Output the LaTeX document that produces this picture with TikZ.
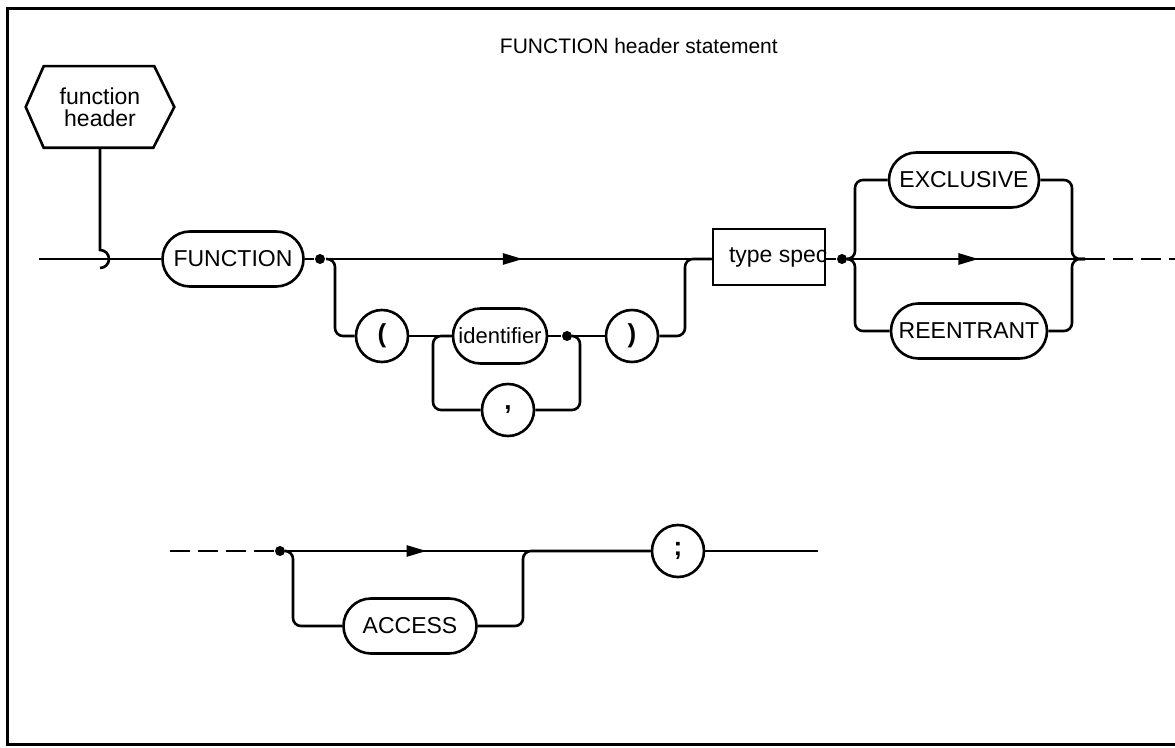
\documentclass[tikz,border=0pt]{standalone}
\usepackage{fontspec}
\setmainfont{Liberation Sans}
\usetikzlibrary{shapes.misc, arrows.meta, decorations.markings, calc}
\begin{document}
\begin{tikzpicture}[x=0.5pt,y=-0.5pt,
  line width=1.3pt,
  txt/.style={font=\fontsize{11.5}{11}\selectfont},
  term/.style={draw, rounded rectangle, minimum height=27.5pt, inner xsep=3pt, inner ysep=0pt, txt},
  circ/.style={draw, circle, minimum size=26pt, inner sep=0pt, font=\fontsize{13}{13}\selectfont\bfseries},
  jdot/.style={circle, fill, inner sep=0pt, minimum size=5pt},
  tsbox/.style={draw, rectangle, minimum height=28pt, inner xsep=8pt, inner ysep=0pt, txt},
  arrowat/.style={postaction={decorate}, decoration={markings, mark=at position #1 with {\arrow{Triangle[length=10pt,width=5.5pt]}}}},
  br/.style={rounded corners=4pt},
  contdash/.style={dash pattern=on 10pt off 4pt}
]
\useasboundingbox (0,0) rectangle (1175,748);
% frame
\draw[line width=1.5pt] (1175,9) -- (7,9) -- (7,745) -- (1175,745);
% title
\node[anchor=base west, font=\fontsize{10.5}{12}\selectfont] (title) at (492,54) {FUNCTION header statement};

% hexagon
\node[txt, align=center, minimum width=73pt, minimum height=39.5pt, inner sep=0pt] (hex) at (100,107) {function\\header};
\draw (hex.west) -- ($(hex.north west)+(18,0)$) -- ($(hex.north east)+(-20,0)$) -- (hex.east)
      -- ($(hex.south east)+(-21,0)$) -- ($(hex.south west)+(18,0)$) -- cycle;
\coordinate (hk) at (100,250);
\draw (hex.south) -- (hk) arc(-90:90:9);

% row 1
\coordinate (start) at (39,259);
\node[term, minimum width=76.5pt] (fn) at (233,259) {FUNCTION};
\draw (start) -- (fn.west);
\node[jdot] (d1) at (320,259) {};
\draw (fn.east) -- (d1);
\node[tsbox] (ts) at (769,257) {\makebox[40pt][l]{type spec}};
\draw[arrowat=0.51] (d1) -- (ts.west |- d1);

\node[circ] (lp) at (382,336) {(};
\node[term, minimum width=53pt, font=\fontsize{11}{11}\selectfont] (id) at (500,336) {identifier};
\node[jdot] (d2) at (567,336) {};
\node[circ] (rp) at (632,336) {)};
\node[circ] (cm) at (508,410) {,};
\draw[br] (d1) -- (335,259) -- (335,336) -- (lp.west);
\draw (lp.east) -- (id.west);
\draw (id.east) -- (d2) -- (rp.west);
\draw[br] (d2) -- (580,336) -- (580,410) -- (cm.east);
\draw[br] (cm.west) -- (433,410) -- (433,336) -- (id.west);
\draw[br] (rp.east) -- (685,336) -- (685,259) -- (ts.west |- d1);

\node[jdot] (d3) at (842,259) {};
\draw (ts.east |- d3) -- (d3);
\node[term, minimum width=81pt] (ex) at (964,180) {EXCLUSIVE};
\node[term, minimum width=84pt] (re) at (969,331) {REENTRANT};
\coordinate (e3) at (1085,259);
\coordinate (c1) at (1175,259);
\draw[arrowat=0.55] (d3) -- (e3);
\draw[contdash] (e3) -- (c1);
\draw[br] (d3) -- (855,259) -- (855,180) -- (ex.west);
\draw[br] (ex.east) -- (1072,180) -- (1072,259) -- (e3);
\draw[br] (d3) -- (855,259) -- (855,331) -- (re.west);
\draw[br] (re.east) -- (1072,331) -- (1072,259) -- (e3);

% row 2
\coordinate (c2) at (170,551);
\node[jdot] (d4) at (280,551) {};
\draw[contdash] (c2) -- (d4);
\node[circ] (semi) at (678,551) {;};
\draw[arrowat=0.385] (d4) -- (semi.west);
\coordinate (fin) at (818,551);
\draw (semi.east) -- (fin);
\node[term, minimum width=72.5pt] (acc) at (410,626) {ACCESS};
\draw[br] (d4) -- (293,551) -- (293,626) -- (acc.west);
\draw[br] (acc.east) -- (523,626) -- (523,551) -- (semi.west);
\end{tikzpicture}
\end{document}
